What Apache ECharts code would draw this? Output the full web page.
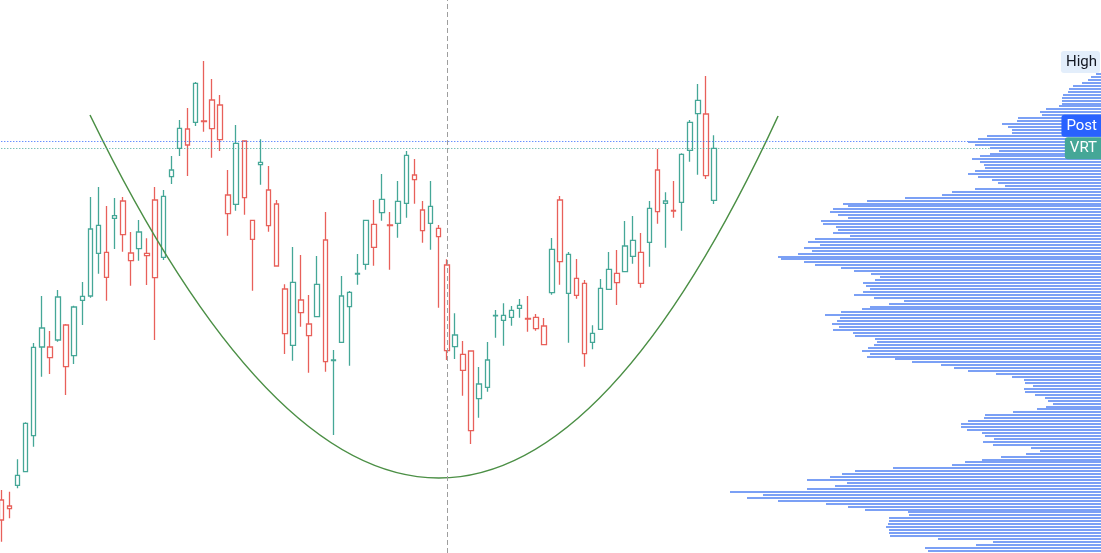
<!DOCTYPE html>
<html><head><meta charset="utf-8">
<script src="https://cdn.jsdelivr.net/npm/echarts@6/dist/echarts.min.js"></script>
<style>html,body{margin:0;padding:0;background:#fff;overflow:hidden}#c{width:1101px;height:553px}</style>
</head><body><div id="c"></div><script>
// ---- candle data (daily OHLC, price units) ----
const opens = [4.000, 4.700, 5.735, 6.415, 8.215, 13.600, 12.650, 15.150, 13.750, 12.215,
 14.985, 18.550, 17.335, 16.135, 19.085, 19.950, 17.350, 18.400, 17.335, 20.000,
 17.135, 21.500, 22.585, 23.550, 23.885, 23.950, 25.000, 24.750, 20.250, 19.785,
 22.950, 18.035, 21.885, 20.500, 19.800, 15.550, 12.735, 15.000, 13.215, 14.165,
 18.000, 11.975, 12.885, 14.665, 16.300, 16.785, 17.635, 20.035, 18.750, 18.835,
 19.835, 21.250, 19.500, 18.835, 18.165, 16.750, 13.250, 11.485, 12.450, 10.800,
 10.635, 14.210, 13.985, 14.135, 14.585, 14.075, 14.135, 13.700, 15.365, 20.000,
 15.335, 15.235, 15.835, 12.885, 13.535, 15.535, 16.335, 17.700, 17.185, 15.835,
 17.885, 21.500, 19.835, 19.475, 19.885, 22.485, 24.985, 24.300, 19.985];
const closes = [5.000, 4.565, 6.235, 8.835, 12.635, 12.650, 12.115, 13.000, 11.665, 14.650,
 15.185, 15.200, 18.735, 17.385, 19.215, 18.265, 16.965, 17.565, 17.215, 16.115,
 20.185, 21.165, 23.585, 22.750, 25.835, 23.925, 23.565, 23.015, 19.315, 22.835,
 20.115, 18.985, 21.765, 18.715, 16.700, 13.315, 15.885, 14.365, 13.800, 15.785,
 11.915, 12.010, 15.200, 15.385, 16.325, 18.985, 18.785, 19.365, 18.725, 19.935,
 22.235, 21.015, 18.465, 19.685, 18.585, 12.465, 12.665, 12.285, 8.465, 10.065,
 12.000, 14.225, 14.235, 14.485, 14.735, 14.050, 13.565, 12.765, 17.535, 16.915,
 17.285, 16.085, 12.315, 13.335, 15.585, 16.535, 15.865, 16.415, 17.985, 17.385,
 19.585, 19.415, 19.950, 19.450, 22.285, 23.885, 24.315, 21.215, 22.585];
const highs = [5.500, 5.415, 7.035, 8.885, 12.850, 15.200, 13.450, 15.500, 13.800, 14.715,
 15.900, 20.150, 20.650, 19.700, 20.100, 20.150, 18.400, 19.000, 18.085, 20.650,
 20.500, 22.200, 24.000, 24.600, 25.900, 26.950, 26.050, 25.250, 21.500, 23.750,
 22.950, 18.985, 23.035, 21.700, 20.000, 15.785, 17.650, 17.250, 15.250, 17.200,
 19.400, 12.500, 16.200, 15.450, 17.300, 18.985, 20.000, 21.300, 19.400, 20.950,
 22.450, 22.050, 19.950, 20.950, 18.750, 17.035, 14.335, 12.950, 12.450, 11.650,
 12.900, 14.500, 14.835, 14.700, 15.050, 15.200, 14.300, 14.100, 18.100, 20.200,
 17.400, 17.050, 16.000, 13.735, 16.050, 17.400, 17.500, 18.950, 19.200, 18.350,
 19.950, 22.550, 20.385, 20.950, 22.335, 24.000, 25.800, 26.200, 23.235];
const lows = [2.915, 4.085, 5.585, 6.415, 7.665, 11.165, 11.300, 12.915, 10.250, 11.800,
 13.750, 15.115, 16.315, 14.965, 17.550, 17.415, 15.715, 16.965, 15.750, 13.000,
 17.000, 20.800, 22.200, 21.200, 23.700, 23.415, 22.115, 22.450, 18.215, 19.465,
 19.265, 15.465, 20.765, 18.415, 16.665, 12.300, 11.965, 13.665, 11.365, 14.165,
 11.415, 8.250, 12.885, 11.715, 15.765, 16.515, 16.715, 18.965, 16.515, 18.115,
 19.115, 19.815, 17.865, 17.515, 14.615, 12.000, 12.050, 10.215, 7.800, 9.115,
 10.415, 13.115, 12.715, 13.715, 14.115, 13.415, 13.465, 12.765, 15.265, 15.765,
 12.865, 15.065, 11.665, 12.535, 13.535, 15.500, 14.750, 16.415, 16.815, 15.615,
 16.665, 18.815, 17.615, 19.115, 18.465, 21.915, 21.265, 21.050, 19.800];
const prevClose = 5.25;          // close of the bar before the first visible one
const postPrice = 22.95;         // post-market price line
const markedBar = 55;            // vertical dashed marker
const slotCount = 136;           // visible bar slots incl. empty right margin
const categories = Array.from({length: slotCount}, (_, i) => 'B' + i);

// ---- cup arc anchors [bar index, price] ----
const cupStart = [10.95, 24.25];
const cupBottom = [54.0, 6.1];
const cupEnd = [95.9, 24.2];

// ---- visible range volume profile (top row first) ----
const profileTopPrice = 26.295;
const profileStep = 0.1471;
const profileVolume = [5, 10, 13, 19, 28, 32, 33, 38, 39, 39,
 39, 42, 55, 61, 59, 83, 84, 99, 93, 89,
 89, 114, 123, 133, 126, 111, 102, 111, 121, 129,
 121, 117, 116, 126, 133, 123, 109, 103, 96, 126,
 149, 159, 196, 234, 258, 253, 268, 271, 263, 253,
 280, 278, 265, 263, 268, 251, 286, 293, 281, 297,
 289, 303, 323, 320, 297, 286, 260, 247, 230, 221,
 226, 238, 235, 231, 238, 247, 227, 197, 212, 231,
 239, 260, 276, 261, 264, 269, 262, 268, 248, 246,
 226, 224, 227, 233, 239, 231, 234, 206, 189, 160,
 147, 133, 105, 89, 77, 76, 68, 77, 76, 66,
 56, 53, 48, 55, 64, 88, 116, 117, 133, 140,
 140, 134, 119, 116, 107, 118, 108, 70, 61, 75,
 100, 119, 136, 149, 208, 246, 259, 271, 294, 254,
 266, 294, 371, 338, 354, 323, 275, 253, 236, 193,
 192, 212, 212, 213, 215, 212, 212, 211, 163, 108,
 125, 176, 173];

const TEAL = '#45a797', RED = '#e8605a', BLUE = '#2962ff', PROFILE = '#7ba0f5', CUP = '#4b8f45';
const Y_MIN = 2.35, Y_MAX = 30;

const candleData = opens.map((o, i) => {
  const c = closes[i];
  const prev = i === 0 ? prevClose : closes[i - 1];
  const col = c >= prev ? TEAL : RED;
  return {value: [o, c, lows[i], highs[i]],
    itemStyle: {color: 'rgba(255,255,255,0)', borderColor: col, color0: col, borderColor0: col}};
});
const profileData = profileVolume.map((v, j) => [v, profileTopPrice - j * profileStep]);
const cupData = [cupStart, cupBottom, cupEnd];

const chart = echarts.init(document.getElementById('c'), null, {renderer: 'canvas'});
const hidden = {show: false};
chart.setOption({
  animation: false,
  backgroundColor: '#ffffff',
  grid: [
    {left: 1.3, right: 6.2, top: 0, bottom: 0},
    {left: 0, right: 0, top: 0, bottom: 0}
  ],
  xAxis: [
    {type: 'category', gridIndex: 0, data: categories, boundaryGap: false,
      axisLine: hidden, axisTick: hidden, axisLabel: hidden, splitLine: hidden},
    {type: 'value', gridIndex: 1, inverse: true, min: 0, max: 1101,
      axisLine: hidden, axisTick: hidden, axisLabel: hidden, splitLine: hidden},
    {type: 'value', gridIndex: 0, min: 0, max: slotCount - 1,
      axisLine: hidden, axisTick: hidden, axisLabel: hidden, splitLine: hidden}
  ],
  yAxis: [
    {type: 'value', gridIndex: 0, min: Y_MIN, max: Y_MAX,
      axisLine: hidden, axisTick: hidden, axisLabel: hidden, splitLine: hidden},
    {type: 'value', gridIndex: 1, min: Y_MIN, max: Y_MAX,
      axisLine: hidden, axisTick: hidden, axisLabel: hidden, splitLine: hidden}
  ],
  series: [
    {type: 'candlestick', xAxisIndex: 0, yAxisIndex: 0, data: candleData,
      barWidth: 5, clip: false, z: 3,
      itemStyle: {borderWidth: 1.3},
      markLine: {
        symbol: ['none', 'none'], silent: true, animation: false, label: {show: false},
        emphasis: {disabled: true},
        data: [
          {xAxis: categories[markedBar], lineStyle: {color: '#9e9e9e', type: [5, 3], width: 1}},
          {yAxis: postPrice, lineStyle: {color: BLUE, type: [1, 2], width: 1}},
          {yAxis: closes[closes.length - 1], lineStyle: {color: TEAL, type: [1, 2], width: 1}}
        ]
      }
    },
    {type: 'custom', xAxisIndex: 2, yAxisIndex: 0, data: cupData, z: 4, silent: true,
      renderItem: function (params, api) {
        if (params.dataIndex !== 0) return;
        const p0 = api.coord([api.value(0, 0), api.value(1, 0)]);
        const pm = api.coord([api.value(0, 1), api.value(1, 1)]);
        const p2 = api.coord([api.value(0, 2), api.value(1, 2)]);
        const cpx = 2 * pm[0] - (p0[0] + p2[0]) / 2;
        const cpy = 2 * pm[1] - (p0[1] + p2[1]) / 2;
        return {type: 'bezierCurve',
          shape: {x1: p0[0], y1: p0[1], x2: p2[0], y2: p2[1], cpx1: cpx, cpy1: cpy},
          style: {stroke: CUP, lineWidth: 1.5, fill: 'none'}};
      }
    },
    {type: 'custom', xAxisIndex: 1, yAxisIndex: 1, data: profileData, z: 5, silent: true,
      renderItem: function (params, api) {
        const v = api.value(0), p = api.value(1);
        const a = api.coord([0, p]);
        const b = api.coord([v, p]);
        const yTop = Math.round(a[1] - 1);
        return {type: 'rect', shape: {x: Math.round(b[0]), y: yTop, width: a[0] - Math.round(b[0]), height: 2},
          style: {fill: PROFILE}};
      }
    }
  ]
});

// price-scale labels at the right edge
const toY = v => chart.convertToPixel({yAxisIndex: 0}, v);
const yHigh = toY(Math.max.apply(null, highs));
const yLast = toY(closes[closes.length - 1]);
let yPost = toY(postPrice);
const LH = 22.5;
if (yLast - yPost < LH) yPost = yLast - LH;
const font = '15px Roboto';
chart.setOption({
  graphic: [
    {type: 'text', x: 1100, y: yHigh + 1, z: 100, silent: true,
      style: {text: 'High', font: font, fill: '#131722', align: 'right', verticalAlign: 'middle',
        lineHeight: 15, backgroundColor: '#e3eefb', padding: [4, 3, 3, 5], borderRadius: 3}},
    {type: 'text', x: 1104, y: yPost, z: 100, silent: true,
      style: {text: 'Post', font: font, fill: '#ffffff', align: 'right', verticalAlign: 'middle',
        lineHeight: 15, backgroundColor: BLUE, padding: [4, 7, 3, 5], borderRadius: 3}},
    {type: 'text', x: 1104, y: yLast, z: 100, silent: true,
      style: {text: 'VRT', font: font, fill: '#ffffff', align: 'right', verticalAlign: 'middle',
        lineHeight: 15, backgroundColor: TEAL, padding: [4, 7, 3, 5], borderRadius: 3}}
  ]
});
</script></body></html>
